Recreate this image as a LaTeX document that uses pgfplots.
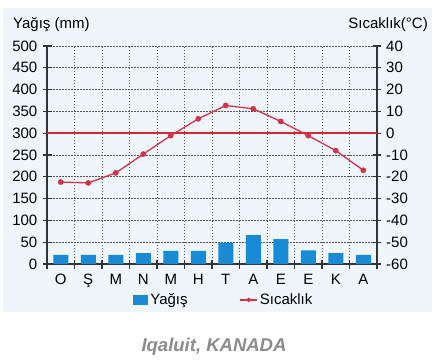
\documentclass[border=0pt]{standalone}
\usepackage{fontspec}
\setmainfont{Liberation Sans}
\usepackage{pgfplots}
\pgfplotsset{compat=1.18}
\definecolor{bluebar}{HTML}{1B8AD5}
\definecolor{tred}{HTML}{D2334A}
\definecolor{linered}{HTML}{D62535}
\definecolor{axisc}{HTML}{333333}
\definecolor{panel}{HTML}{EEF6FB}
\definecolor{gridc}{HTML}{555555}
\definecolor{titlec}{HTML}{8C8C8C}
\begin{document}
\fontsize{15bp}{18bp}\selectfont
\begin{tikzpicture}[x=1bp,y=1bp]
\useasboundingbox (0,0) rectangle (439,360);
\fill[white] (0,0) rectangle (439,360);
\fill[panel] (3,48) rectangle (432,352);
\begin{axis}[at={(47bp,96bp)}, anchor=south west, scale only axis,
  width=330bp, height=218bp,
  xmin=-0.5, xmax=11.5, ymin=0, ymax=500,
  axis x line*=bottom, axis y line*=left,
  axis line style={axisc, line width=1.6bp},
  xtick={-0.5,0.5,...,11.5}, xticklabels={},
  extra x ticks={0,...,11},
  extra x tick labels={O,Ş,M,N,M,H,T,A,E,E,K,A},
  extra x tick style={grid=none, major tick length=0pt},
  ytick={0,50,...,500},
  xmajorgrids, ymajorgrids,
  grid style={gridc, dash pattern=on 1.5bp off 1.5bp, line width=0.7bp},
  tick align=center, major tick length=9bp,
  tick style={axisc, line width=1.2bp},
  /pgf/number format/assume math mode=true,
  ticklabel style={font=\fontsize{15bp}{18bp}\selectfont, text=black},
  xticklabel style={yshift=-5bp},
  legend style={at={(0.536,-0.165)}, anchor=center, draw=none, fill=none,
    font=\fontsize{15bp}{18bp}\selectfont, legend columns=2,
    /tikz/every even column/.append style={column sep=50bp}},
  ]
\addplot[ybar, bar width=15bp, fill=bluebar, draw=none,
  legend image code/.code={\fill[bluebar] (0bp,-5bp) rectangle (15bp,5bp);}]
  coordinates {(0,21) (1,21) (2,21) (3,25) (4,30) (5,30) (6,49) (7,66) (8,57) (9,31) (10,25) (11,21)};
\addlegendentry{Yağış}
\addlegendimage{tred, line width=1.3bp, mark=*, mark size=1.6bp}
\addlegendentry{Sıcaklık}
\end{axis}
\begin{axis}[at={(47bp,96bp)}, anchor=south west, scale only axis,
  width=330bp, height=218bp,
  xmin=-0.5, xmax=11.5, ymin=-60, ymax=40,
  axis x line=none, axis y line*=right,
  axis line style={axisc, line width=1.6bp},
  ytick={-60,-50,...,40},
  tick align=center, major tick length=8bp,
  tick style={axisc, line width=1.2bp},
  /pgf/number format/assume math mode=true,
  ticklabel style={font=\fontsize{15bp}{18bp}\selectfont, text=black},
  ]
\addplot[draw=linered, line width=1.5bp, no marks, forget plot] coordinates {(-0.5,0) (11.5,0)};
\addplot[tred, line width=1.3bp, mark=*, mark size=2.2bp]
  coordinates {(0,-22.4) (1,-22.8) (2,-18.2) (3,-9.6) (4,-1.1) (5,6.6) (6,12.7) (7,11.2) (8,5.4) (9,-1.1) (10,-8.0) (11,-17.0)};
\end{axis}
\node[anchor=west] at (8,335) {Yağış (mm)};
\node[anchor=east] at (433,335) {Sıcaklık(°C)};
\node[text=titlec, font=\fontsize{18.5bp}{22bp}\selectfont\bfseries\itshape] at (214,13) {Iqaluit, KANADA};
\end{tikzpicture}
\end{document}
